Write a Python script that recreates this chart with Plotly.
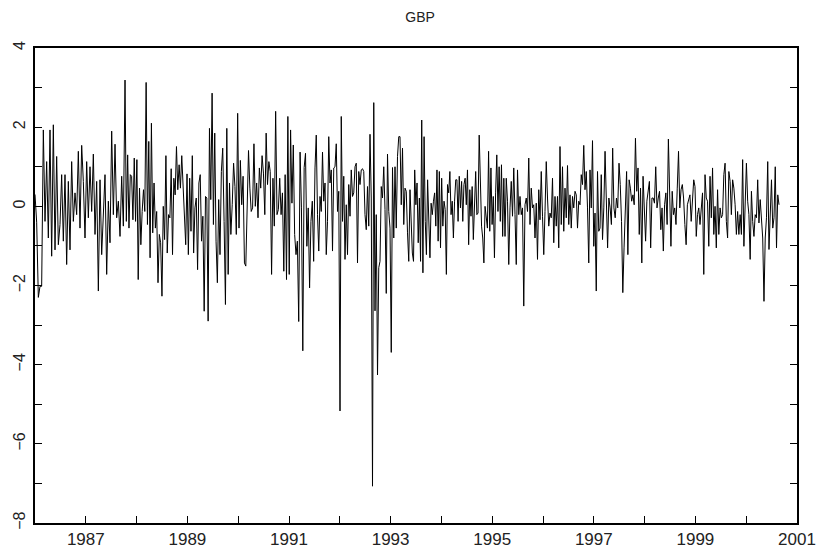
import plotly.graph_objects as go

# Segment boundaries (decimal years) and weekly GBP values
seg_bounds = [1986.0, 1987.772, 1989.642, 1991.512, 1993.382, 1995.252, 1997.122, 1998.992, 2000.646]

seg_a = [0.3, -0.4, -2.3, -2.02, -2.02, 1.93, -0.38, 1.13, -0.8, 1.93, -1.26, 2.06, -1.1, 1.26, -0.97,
         -0.46, 0.8, -0.88, 0.8, -1.47, 0.63, -1.1, 1.13, -0.38, 0.34, -0.21, 1.39, -0.55, 1.54, 0.63,
         -0.8, 1.13, -0.29, 1.0, -0.13, 1.32, -0.71, 0.63, -2.14, 0.67, -1.22, -0.13, 0.8, -1.72, 0.13,
         -0.92, 1.9, -0.21, 1.57, -0.29, 0.13, -0.76, 0.76, -0.5]
seg_b = [3.19, -0.38, 1.3, -0.55, 0.8, 0.76, -0.34, 1.22, -0.38, 1.18, -1.85, 0.46, -0.97, -0.13, 0.42,
         -0.13, 3.13, -0.46, 1.64, -1.3, 2.1, -0.67, 0.59, -0.55, -0.13, -1.93, -0.71, -0.92, -2.27, 0.0,
         -0.84, 1.28, -1.18, -0.21, -0.29, 0.95, -1.22, 0.71, 0.29, 1.51, 0.42, 1.05, 0.46, 1.28, 0.53,
         -0.38, -0.97, 0.82, -1.22, 0.71, -0.63, 1.28, -1.18, -0.04, 0.21, -1.6, 0.59, 0.8, -0.88, -0.25,
         -2.65, 0.25, 0.21, -2.9, 1.97, 0.17, 2.86, -0.46, 1.85, -0.88, -1.93, 0.17]
seg_c = [-1.22, 0.88, 1.47, -0.38, -2.48, 1.97, -1.72, 0.59, -0.71, 0.04, 1.09, 0.5, -0.71, 2.35, -0.55,
         1.16, 0.04, 0.76, -1.43, -1.51, -0.04, 1.41, 0.46, -0.13, -0.04, 1.58, 0.0, 0.59, -0.29, 0.97,
         0.46, 1.28, 0.84, -0.21, 1.85, 0.55, 1.13, 0.88, -1.72, 0.71, -0.5, 2.4, -0.21, -0.08, 0.71,
         -0.21, 0.34, -1.64, 0.8, -1.85, 2.27, -1.72, 1.93, 0.08, 1.55, -0.71, -1.22, -0.88, -2.91, 1.37,
         -0.04, -3.65, 0.98, 1.34, -1.01, -0.04, -2.06, -0.38, 0.13, -1.39]
seg_d = [0.97, 1.8, -0.21, -1.13, 0.25, -0.13, 1.37, 0.13, 0.59, -1.22, -0.38, 1.76, 0.59, 0.92, -1.13,
         0.97, 1.0, 1.58, -0.13, 0.38, -5.17, 2.27, -0.38, 0.76, -1.34, 0.04, -1.22, 0.55, -0.25, 0.92,
         0.25, 0.34, 1.0, 1.09, -1.43, 0.88, 0.55, 0.92, 0.95, 0.88, -0.21, -0.59, 0.5, -0.5, 1.82, 0.21,
         -7.07, 2.62, -2.64, -0.21, -4.26, -1.55, -1.39, 0.5, 0.21, 1.0, -0.08, -2.2, 1.32, -0.13, -0.55,
         -3.69, 0.98, -0.8, 1.0, -0.55, 1.26, 1.76, 1.76, 0.04, 1.47, -0.46, 0.46, 0.38, -0.67, -1.39]
seg_e = [0.42, -0.63, -1.18, -1.39, 0.92, 0.04, 0.59, -0.92, 0.21, -1.39, 2.18, -1.68, 1.76, -0.38, -1.22,
         0.67, -0.55, -1.3, 0.08, -0.21, 0.13, 0.34, -0.5, 0.92, -0.88, 0.88, -1.05, 0.71, -0.5, 0.13,
         -0.08, -1.72, 0.55, 0.34, 0.88, -0.21, 0.13, -0.8, 0.13, 0.67, 0.67, -0.38, 0.76, -0.04, 0.63,
         -0.38, 0.55, 0.71, 0.04, 0.92, -0.97, 0.42, -0.25, 0.5, -0.84, 0.42, 0.88, -0.21, -0.17, 1.8,
         0.29, -0.5, -0.8, -1.43, 0.0, -0.21, -0.55, 1.39, -0.63, 0.97, -0.46, 0.25, -1.3, 0.34, 1.3,
         -0.13, 1.0, -0.38, 1.05, -0.76, 0.71]
seg_f = [-0.76, 0.71, 0.13, -1.47, -0.04, 0.63, -0.25, 0.97, -0.21, -1.47, 0.92, -0.21, 0.25, -0.21, -0.04,
         -2.52, 0.04, 0.21, -0.13, 1.22, -0.46, 0.46, -0.04, 0.04, -0.8, 0.08, -1.34, 0.42, -0.34, 0.88,
         -0.25, -1.22, -0.13, 1.13, 0.21, -0.5, -0.17, -0.29, 0.71, -0.92, 0.25, -0.5, 0.25, -1.05, 1.51,
         -0.46, 1.0, -0.63, 0.46, -0.29, 1.03, -0.46, 0.29, -0.55, 0.25, -0.04, 0.38, 0.29, -0.55, 0.13,
         0.04, 0.8, 0.55, 1.54, 0.42, 0.88, -0.04, -1.43, 0.92, -0.04, 1.66, -1.01, -0.17, -2.14, 0.88,
         -0.63]
seg_g = [-0.55, 0.8, -0.84, -0.04, 1.39, -0.29, -1.05, 0.21, -0.04, -0.46, 1.47, -0.04, -0.29, 0.21, -0.04,
         1.09, 0.55, -0.38, -2.18, -1.05, 0.04, 0.88, -1.22, 0.67, 0.46, 0.13, 0.29, 0.04, 1.72, 0.38,
         0.97, -0.71, 0.46, -1.43, 0.76, -0.38, -0.88, 0.13, 0.38, 0.63, -1.05, 0.21, 0.21, 0.08, 1.0,
         -0.04, 0.21, 0.38, -0.59, -0.04, -1.13, 0.04, 0.34, -0.46, 1.7, -0.04, -1.01, 0.38, -0.21, -0.04,
         -0.46, 0.46, 1.39, -0.04, 0.42, 0.55, 0.21, -0.46, -0.97, 0.04, 0.21, 0.29, -0.38, 0.29, 0.67]
seg_h = [0.5, -0.76, -0.21, -0.04, -0.46, -0.04, 0.34, -1.72, 0.8, 0.21, 0.13, -1.01, 0.76, -0.29, 0.97,
         -0.71, 0.0, -1.05, 0.42, -0.71, -0.04, -0.29, -0.21, 0.8, 1.09, -0.38, -0.8, 0.88, 0.63, -0.21,
         0.67, 0.46, 0.04, -0.71, -0.13, -0.71, -0.21, -0.71, 1.18, -1.01, 0.46, 1.09, 0.13, -0.21, -1.34,
         0.38, -0.38, -0.76, -0.21, -0.29, 0.67, -0.42, 0.17, -0.29, -0.8, -2.4, -0.8, -0.29, 1.13, -1.09,
         -0.04, 0.67, -0.55, -0.29, 1.0, -1.05, 0.29, 0.04]

segments = [seg_a, seg_b, seg_c, seg_d, seg_e, seg_f, seg_g, seg_h]

year_ticks = list(range(1986, 2002))
year_labels = [str(y) if y % 2 == 1 else "" for y in year_ticks]
y_ticks = list(range(-8, 5))
y_labels = [(str(v).replace("-", "\u2212") if v % 2 == 0 else "") for v in y_ticks]

# Build time index: values spread evenly (weekly-like) inside each segment
t, v = [], []
for k, seg in enumerate(segments):
    a, b = seg_bounds[k], seg_bounds[k + 1]
    n = len(seg)
    last = (k == len(segments) - 1)
    for i, val in enumerate(seg):
        frac = i / (n - 1) if last else i / n
        t.append(a + (b - a) * frac)
        v.append(val)

fig = go.Figure(go.Scatter(x=t, y=v, mode="lines",
                           line=dict(color="black", width=1), showlegend=False))

# page body has an 8px margin, so the figure is sized to fit the window
W, H = 816, 546
font_family = "Liberation Sans, Arial, sans-serif"
fig.update_layout(
    width=W, height=H,
    margin=dict(l=27, r=27, t=40, b=31),
    paper_bgcolor="white", plot_bgcolor="white",
    title=dict(text="GBP", x=0.505, xanchor="center", y=1 - 9 / H, yanchor="middle",
               font=dict(family=font_family, size=14, color="#222")),
    font=dict(family=font_family, size=17, color="#222"),
    xaxis=dict(range=[1986, 2001], tickvals=year_ticks, ticktext=year_labels,
               ticks="inside", ticklen=7, tickwidth=1, tickcolor="black",
               showline=True, linecolor="black", linewidth=2, mirror=True,
               showgrid=False, zeroline=False, automargin=False),
    yaxis=dict(range=[-8, 4], tickvals=y_ticks, ticktext=y_labels, tickangle=-90,
               ticks="inside", ticklen=7, tickwidth=1, tickcolor="black",
               showline=True, linecolor="black", linewidth=2, mirror="ticks",
               showgrid=False, zeroline=False, automargin=False, ticklabelstandoff=2,
               tickfont=dict(size=16)),
)

fig.write_html("out.html")
